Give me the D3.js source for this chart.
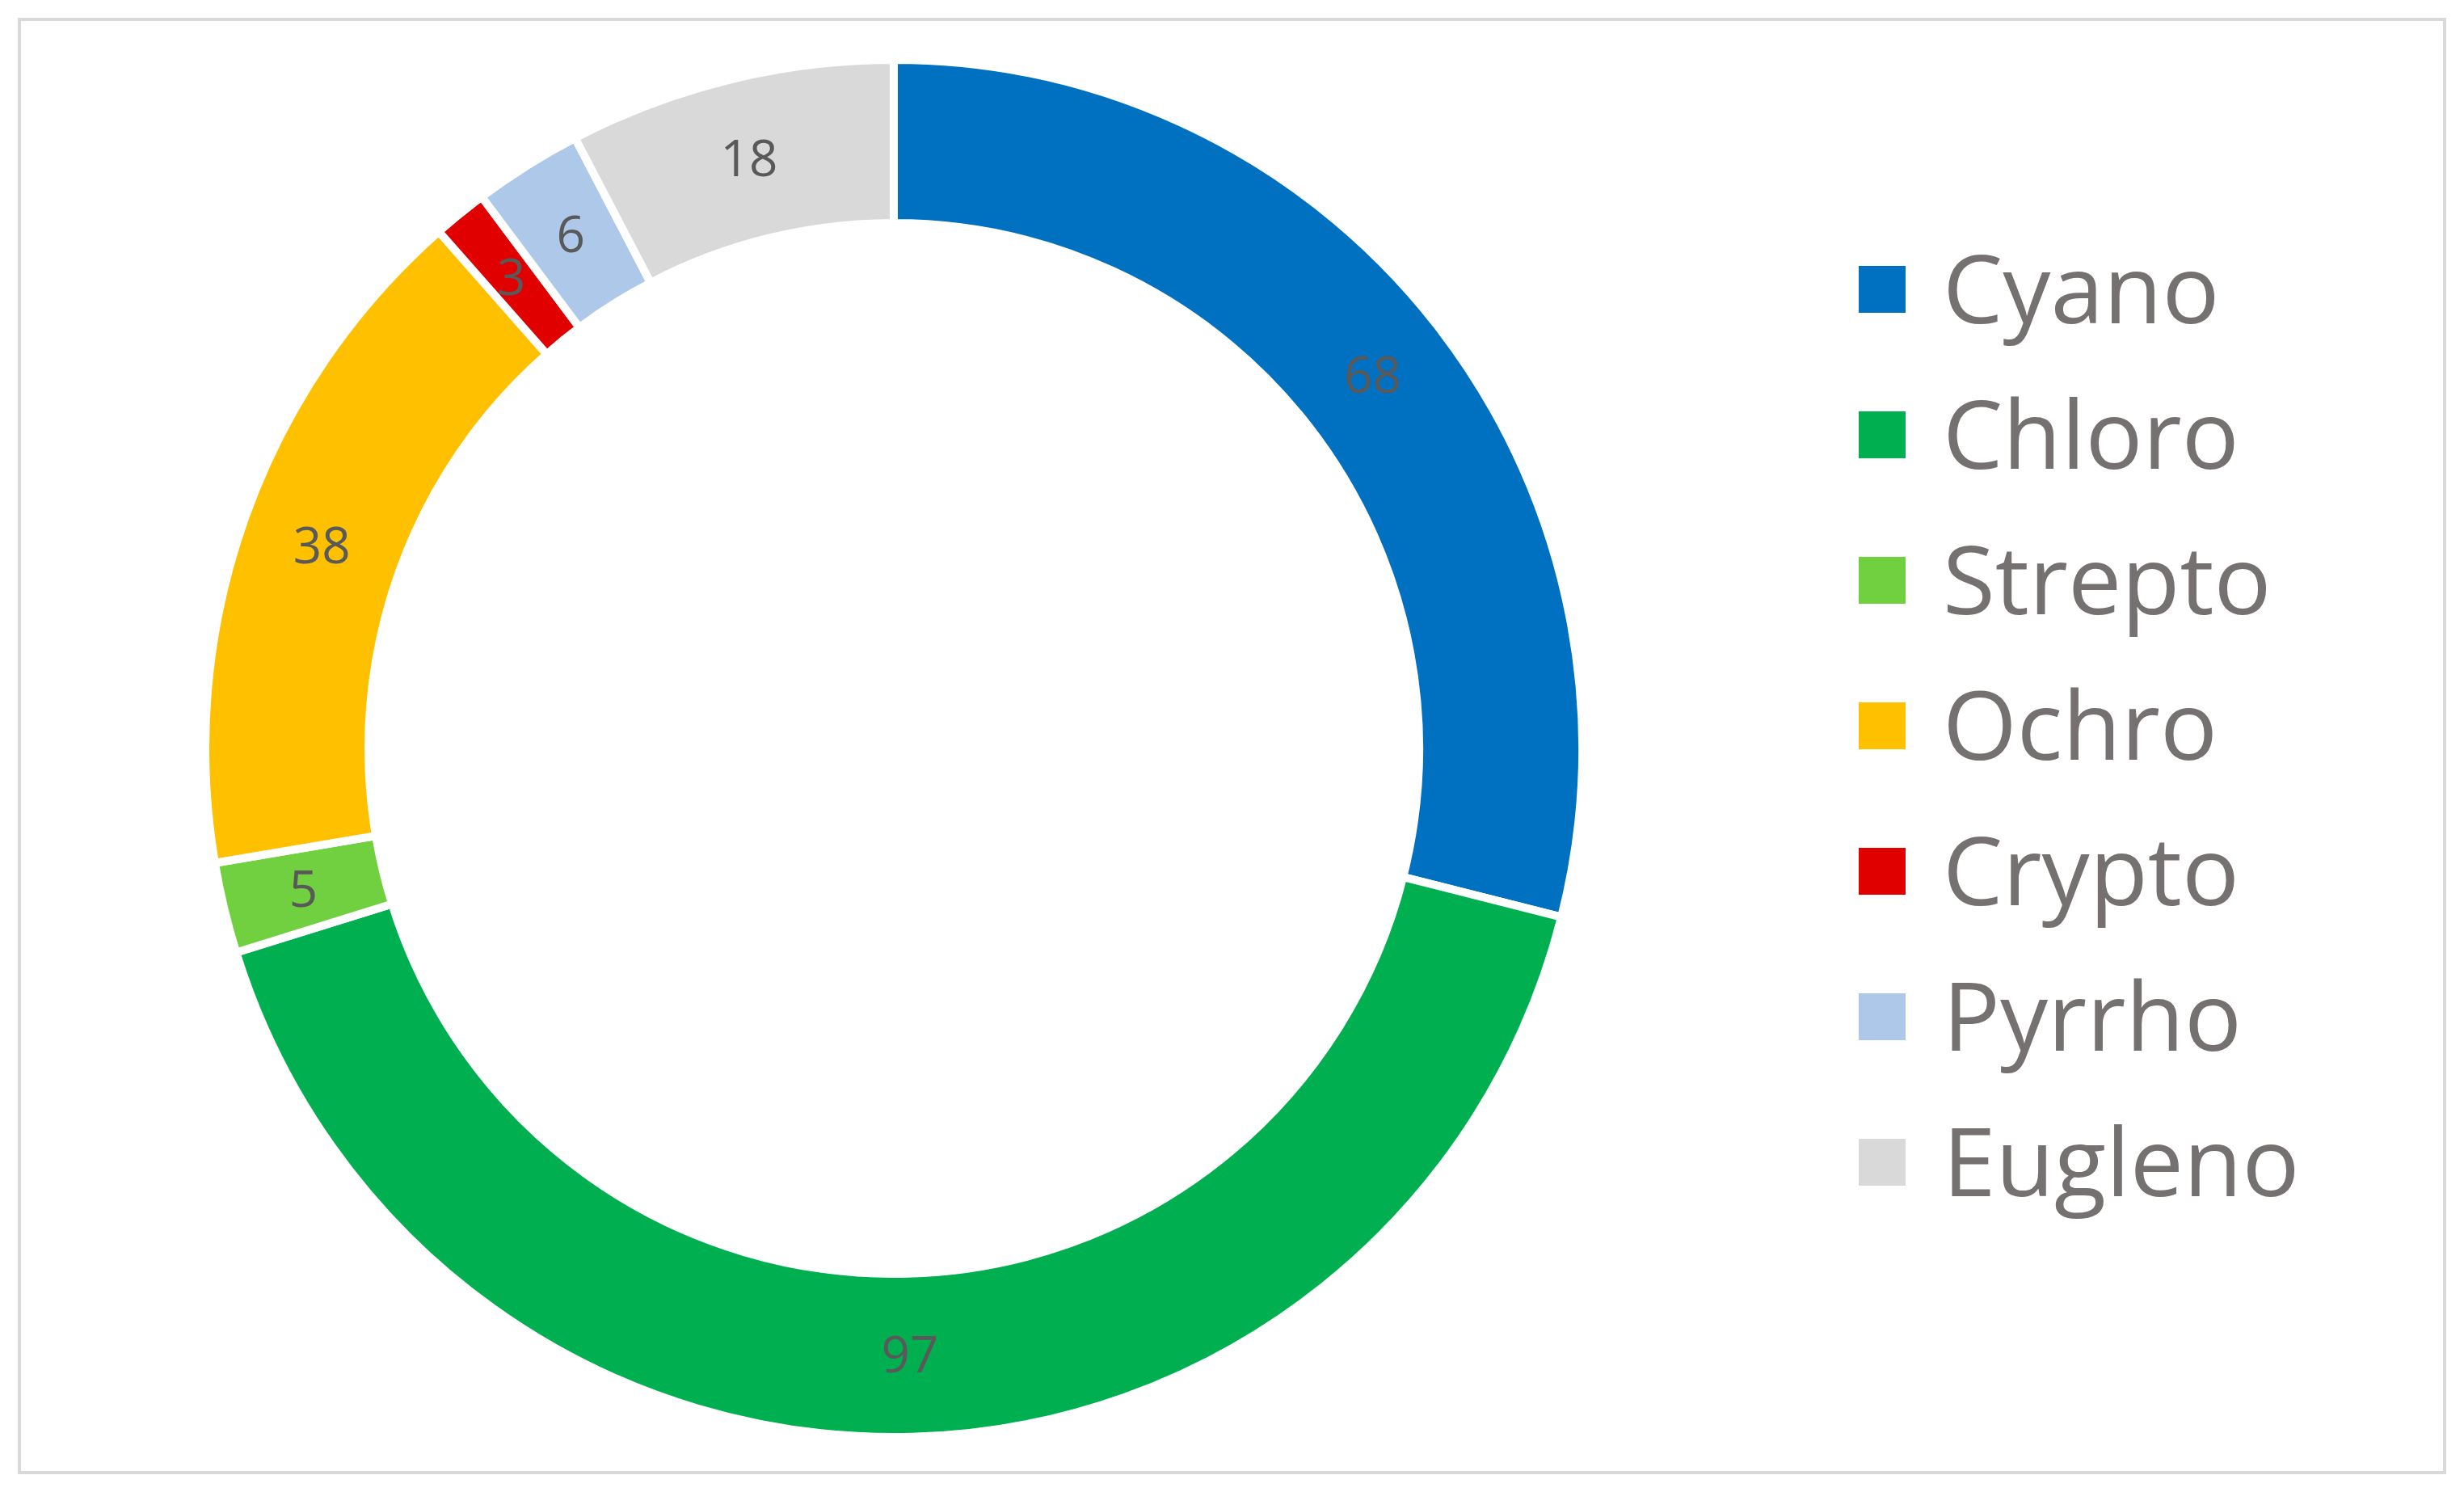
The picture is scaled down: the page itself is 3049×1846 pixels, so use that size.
<!DOCTYPE html>
<html>
<head>
<meta charset="utf-8">
<script src="https://cdn.jsdelivr.net/npm/d3@7"></script>
<style>
  body { margin: 0; background: #fff; }
  text { font-family: "Open Sans", "Liberation Sans", sans-serif; }
</style>
</head>
<body>
<div id="chart"></div>
<script>
// categories and values
var categories = ["Cyano", "Chloro", "Strepto", "Ochro", "Crypto", "Pyrrho", "Eugleno"];
var values = [68, 97, 5, 38, 3, 6, 18];
var colors = ["#0070c0", "#00b050", "#70d040", "#ffc000", "#e00000", "#aec8ea", "#d9d9d9"];

var W = 3049, H = 1846;
var svg = d3.select("#chart").append("svg")
    .attr("width", W)
    .attr("height", H);

// outer frame
svg.append("rect")
    .attr("x", 24).attr("y", 24)
    .attr("width", W - 48).attr("height", H - 48)
    .attr("fill", "#fff")
    .attr("stroke", "#d9d9d9")
    .attr("stroke-width", 4);

var cx = 1106, cy = 926, rOut = 852, rIn = 650;

var pie = d3.pie().sort(null).value(function(d) { return d; });
var arcs = pie(values);
var arc = d3.arc().innerRadius(rIn).outerRadius(rOut);
var labelArc = d3.arc().innerRadius((rIn + rOut) / 2).outerRadius((rIn + rOut) / 2);

var g = svg.append("g").attr("transform", "translate(" + cx + "," + cy + ")");

g.selectAll("path")
    .data(arcs)
    .enter()
    .append("path")
    .attr("d", arc)
    .attr("fill", function(d, i) { return colors[i]; })
    .attr("stroke", "#fff")
    .attr("stroke-width", 10);

g.selectAll("text.lbl")
    .data(arcs)
    .enter()
    .append("text")
    .attr("class", "lbl")
    .attr("transform", function(d) { return "translate(" + labelArc.centroid(d) + ")"; })
    .attr("text-anchor", "middle")
    .attr("dy", "0.35em")
    .attr("font-size", 62)
    .attr("fill", "#595959")
    .text(function(d) { return d.data; });

// legend
var legend = svg.append("g").attr("transform", "translate(2300,358)");
var items = legend.selectAll(".legend-item")
    .data(categories)
    .enter()
    .append("g")
    .attr("class", "legend-item")
    .attr("transform", function(d, i) { return "translate(0," + (i * 180) + ")"; });

items.append("rect")
    .attr("x", 0).attr("y", -29)
    .attr("width", 58).attr("height", 58)
    .attr("fill", function(d, i) { return colors[i]; });

items.append("text")
    .attr("x", 104)
    .attr("dy", "0.36em")
    .attr("font-size", 118)
    .attr("fill", "#767171")
    .text(function(d) { return d; });
</script>
</body>
</html>
